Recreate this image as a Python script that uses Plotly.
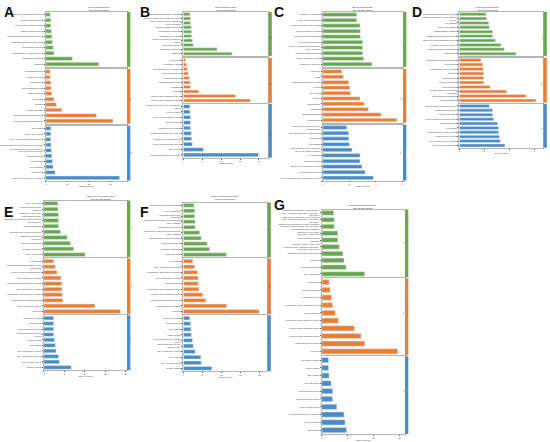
import plotly.graph_objects as go

W, H = 550, 442
GREEN = "#6aa84f"
ORANGE = "#ec7d34"
BLUE = "#4a8cc8"

# ---- data (top-to-bottom order inside each section) ----
A_bp_terms = ["aromatic compound catabolic process", "cellular catabolic process", "nucleic acid metabolic process",
              "amine metabolic process", "organic substance biosynthetic process", "ribosomal small subunit biogenesis",
              "mitochondrial transport", "macromolecule catabolic process", "cytoplasmic translation", "translation"]
A_bp_vals = [2.0, 2.3, 2.3, 2.6, 2.8, 3.1, 3.4, 3.8, 12.3, 24.6]
A_cc_terms = ["mitochondrial matrix", "extracellular space", "focal adhesion", "small ribosomal subunit",
              "apical membrane", "membrane", "ribosome", "extracellular region",
              "cytosolic small ribosomal subunit", "cytosolic large ribosomal subunit"]
A_cc_vals = [2.0, 2.0, 2.3, 2.5, 2.8, 3.8, 4.9, 7.4, 23.5, 31.2]
A_mf_terms = ["RNA binding", "poly(A) RNA binding", "NAD+ ADP-ribosyltransferase activity",
              "oxidoreductase activity, acting on CH-OH group", "structural molecule activity, acting on<br>the CH-OH group of donors",
              "antioxidant activity", "heme binding", "iron ion binding", "rRNA binding",
              "structural constituent of ribosome"]
A_mf_vals = [2.3, 2.3, 2.3, 2.4, 2.6, 2.8, 3.1, 3.4, 4.3, 34.3]

B_bp_terms = ["ribosomal small subunit assembly", "glycerol-3-phosphate metabolic process",
              "protein insertion into mitochondrial<br>inner membrane", "fatty acid metabolic process",
              "mitochondrial translation", "regulation of cell growth", "negative regulation of apoptotic<br>process",
              "amino acid transport", "cytoplasmic translation", "translation"]
B_bp_vals = [1.75, 1.9, 1.9, 2.1, 2.2, 2.2, 2.4, 2.6, 8.9, 12.9]
B_cc_terms = ["cell junction", "cytoplasmic vesicle", "mitochondrial inner membrane", "intracellular organelle",
              "plasma membrane", "small ribosomal subunit", "membrane", "ribosome",
              "cytosolic large ribosomal subunit", "cytosolic small ribosomal subunit"]
B_cc_vals = [0.6, 0.9, 1.05, 1.3, 1.6, 1.75, 1.9, 4.1, 13.8, 17.7]
B_mf_terms = ["nucleic acid binding, RNA polymerase<br>activity", "iron ion binding", "protein kinase inhibitor activity",
              "peroxide binding", "unfolded protein binding", "translation initiation factor activity",
              "cytochrome-c oxidase activity", "NADH dehydrogenase activity", "rRNA binding",
              "structural constituent of ribosome"]
B_mf_vals = [1.75, 1.75, 1.9, 1.9, 1.9, 2.1, 2.2, 2.4, 5.3, 19.9]

C_bp_terms = ["regulation of translation", "insulin receptor signaling", "positive regulation of cell growth",
              "cellular response to insulin", "cellular glucose homeostasis", "fatty acid beta-oxidation",
              "positive regulation of transcription,<br>DNA-templated", "glycogen catabolic process",
              "glucose metabolic process", "tricarboxylic acid cycle"]
C_bp_vals = [2.55, 2.55, 2.8, 2.83, 2.83, 3.0, 3.0, 3.0, 3.08, 3.7]
C_cc_terms = ["sarcomere", "Z disc", "mitochondrial respiratory chain", "T-tubule", "cell junction",
              "myofibril", "focal adhesion", "membrane", "mitochondrial matrix", "mitochondrion"]
C_cc_vals = [1.43, 1.55, 1.95, 2.03, 2.1, 2.8, 3.13, 3.43, 4.38, 5.58]
C_mf_terms = ["electron transfer activity, NADH<br>dehydrogenase", "flavin adenine dinucleotide binding",
              "ATP binding", "actin binding", "oxidoreductase activity, acting on<br>the CH-OH group of donors",
              "NAD binding", "coenzyme binding", "acyl-CoA dehydrogenase activity",
              "electron transfer activity", "NADH dehydrogenase (ubiquinone) activity"]
C_mf_vals = [1.8, 1.95, 1.95, 2.0, 2.2, 2.8, 2.8, 2.95, 3.18, 3.8]

D_bp_terms = ["amino acid transmembrane transport", "ubiquitin-dependent protein catabolic<br>process",
              "ion transport", "amino acid transport", "transmembrane transport", "phospholipid biosynthetic process",
              "calcium ion transmembrane transport", "response to unfolded protein",
              "cellular calcium ion homeostasis", "protein folding"]
D_bp_vals = [2.13, 2.19, 2.35, 2.4, 2.67, 2.67, 2.88, 3.33, 3.6, 4.53]
D_cc_terms = ["endoplasmic reticulum membrane", "cell periphery", "endoplasmic reticulum lumen",
              "lysosome", "Golgi apparatus", "vacuolar membrane", "Golgi membrane",
              "integral component of plasma<br>membrane", "Golgi apparatus membrane", "plasma membrane"]
D_cc_vals = [1.73, 1.87, 1.92, 1.95, 1.95, 1.95, 2.48, 3.79, 5.33, 6.13]
D_mf_terms = ["transmembrane transporter activity", "unfolded protein binding", "calcium ion binding",
              "protein disulfide isomerase activity", "chaperone binding", "ATP binding",
              "ligand-gated ion channel activity", "ATPase activity, coupled", "ATP-dependent protein binding",
              "heat shock protein binding"]
D_mf_vals = [2.4, 2.67, 2.67, 2.75, 3.07, 3.15, 3.15, 3.2, 3.28, 3.65]

E_bp_terms = ["tRNA processing", "ribosomal large subunit<br>assembly", "maturation of SSU-rRNA<br>from tricistronic rRNA",
              "maturation of 5.8S rRNA from tricistronic<br>rRNA transcript", "ribosome assembly",
              "ribosomal large subunit biogenesis", "ribosomal small subunit<br>biogenesis",
              "nucleolus organization", "ribosome biogenesis", "rRNA processing"]
E_bp_vals = [3.4, 3.5, 3.6, 3.6, 3.6, 4.1, 5.7, 6.5, 7.3, 10.1]
E_cc_terms = ["nucleoplasm", "Pwp2p-containing subcomplex of 90S<br>preribosome", "cytosolic small ribosomal subunit",
              "RNA polymerase complex", "preribosome, small subunit precursor", "RNA polymerase I complex",
              "preribosome, large subunit precursor", "cytosolic large ribosomal subunit",
              "small-subunit processome", "nucleolus"]
E_cc_vals = [2.4, 2.8, 3.2, 4.2, 4.4, 4.4, 4.5, 4.6, 12.5, 18.7]
E_mf_terms = ["U3 snoRNA binding", "rRNA binding", "methyltransferase activity",
              "ribosome biogenesis factor<br>activity", "helicase activity", "RNA binding",
              "RNA polymerase I activity", "RNA polymerase II activity", "RNA helicase activity",
              "snoRNA binding"]
E_mf_vals = [2.4, 2.4, 2.4, 2.4, 2.6, 2.8, 3.0, 3.6, 3.8, 6.7]

F_bp_terms = ["ribosomal large subunit assembly", "rRNA modification", "ribosomal small subunit<br>biogenesis",
              "maturation of SSU-rRNA from tricistronic<br>rRNA transcript", "maturation of 5.8S rRNA",
              "maturation of LSU-rRNA from tricistronic<br>rRNA transcript", "ribosomal large subunit biogenesis",
              "ribosome biogenesis", "nucleolus organization", "rRNA processing"]
F_bp_vals = [2.8, 3.0, 3.0, 3.1, 3.1, 4.3, 4.7, 6.3, 6.9, 11.3]
F_cc_terms = ["nucleoplasm", "RNA polymerase III complex", "preribosome, small subunit precursor",
              "RNA polymerase I complex", "90S preribosome", "preribosome, large subunit precursor",
              "cytosolic small ribosomal subunit", "cytosolic large ribosomal subunit",
              "small-subunit processome", "nucleolus"]
F_cc_vals = [2.5, 3.0, 3.7, 3.9, 3.9, 4.1, 5.1, 5.9, 11.4, 19.9]
F_mf_terms = ["U3 snoRNA binding", "box C/D binding", "rRNA binding", "snRNA binding",
              "ATP-dependent RNA helicase<br>activity", "methyltransferase activity,<br>acting on RNA",
              "RNA polymerase I activity", "RNA binding", "RNA helicase activity", "snoRNA binding"]
F_mf_vals = [1.7, 1.9, 2.0, 2.1, 2.4, 2.6, 3.1, 4.6, 4.7, 7.5]

G_bp_terms = ["maturation of 5.8S rRNA from tricistronic<br>rRNA transcript (SSU-rRNA, 5.8S rRNA,<br>LSU-rRNA)",
              "maturation of SSU-rRNA from tricistronic<br>rRNA transcript (SSU-rRNA, 5.8S rRNA,<br>LSU-rRNA)",
              "endonucleolytic cleavage in ITS1 to separate<br>SSU-rRNA from 5.8S rRNA and LSU-rRNA<br>from tricistronic rRNA transcript",
              "maturation of LSU-rRNA<br>(SSU-rRNA, 5.8S rRNA)", "ribosomal large subunit<br>assembly",
              "cleavage of rRNA, rRNA from<br>tricistronic rRNA transcript (SSU-rRNA,<br>5.8S rRNA, LSU-rRNA)",
              "ribosomal large subunit biogenesis", "translation", "ribosome biogenesis", "rRNA processing"]
G_bp_vals = [2.3, 2.4, 2.4, 3.1, 3.1, 3.4, 4.1, 4.3, 4.7, 8.3]
G_cc_terms = ["nucleoplasm", "nuclear membrane", "extracellular region", "preribosome, small subunit precursor",
              "90S preribosome", "preribosome, large subunit precursor", "cytosolic small ribosomal subunit",
              "cytosolic large ribosomal subunit", "small-subunit processome", "nucleolus"]
G_cc_vals = [1.4, 1.6, 1.9, 2.1, 2.6, 3.2, 6.3, 7.6, 8.3, 14.7]
G_mf_terms = ["U3 snoRNA binding", "snRNA binding", "rRNA binding", "box C/D binding",
              "GTP hydrolysis activity", "methyltransferase activity", "RNA helicase activity",
              "structural constituent of ribosome", "snoRNA binding", "RNA binding"]
G_mf_vals = [1.3, 1.3, 1.4, 1.8, 2.1, 2.1, 2.9, 4.3, 4.5, 4.8]

# ---- layout of panels (pixels in the 550x442 picture) ----
panels = [
    dict(letter="A", title="WT vs Control(Ctrl)", x=(45, 126), rows=[(11, 66), (68, 123), (125, 180)],
         xmax=37.5, ticks=[0, 10, 20, 30], lpos=(1, 1), tpos=3,
         data=[(A_bp_terms, A_bp_vals), (A_cc_terms, A_cc_vals), (A_mf_terms, A_mf_vals)]),
    dict(letter="B", title="MR vs Control(Ctrl)", x=(183, 268), rows=[(11, 55), (57, 102), (103, 157)],
         xmax=22.4, ticks=[0, 5, 10, 15, 20], lpos=(137, 1), tpos=3,
         data=[(B_bp_terms, B_bp_vals), (B_cc_terms, B_cc_vals), (B_mf_terms, B_mf_vals)]),
    dict(letter="C", title="SR vs Control(Ctrl)", x=(323, 403), rows=[(11, 66), (68, 122), (124, 180)],
         xmax=6.0, ticks=[0, 2, 4, 6], lpos=(272, 1), tpos=3,
         data=[(C_bp_terms, C_bp_vals), (C_cc_terms, C_cc_vals), (C_mf_terms, C_mf_vals)]),
    dict(letter="D", title="NMR vs Control(Ctrl)", x=(460, 544), rows=[(11, 55), (57, 102), (103, 147)],
         xmax=6.7, ticks=[0, 2, 4, 6], lpos=(410, 1), tpos=3,
         data=[(D_bp_terms, D_bp_vals), (D_cc_terms, D_cc_vals), (D_mf_terms, D_mf_vals)]),
    dict(letter="E", title="NMR WT vs Control(Ctrl)", x=(43, 126), rows=[(200, 257), (258, 314), (315, 370)],
         xmax=20.2, ticks=[0, 5, 10, 15, 20], lpos=(1, 201), tpos=192,
         data=[(E_bp_terms, E_bp_vals), (E_cc_terms, E_cc_vals), (E_mf_terms, E_mf_vals)]),
    dict(letter="F", title="NMR MR vs Control(Ctrl)", x=(183, 267), rows=[(202, 257), (258, 314), (315, 371)],
         xmax=22.0, ticks=[0, 5, 10, 15, 20], lpos=(137, 201), tpos=192,
         data=[(F_bp_terms, F_bp_vals), (F_cc_terms, F_cc_vals), (F_mf_terms, F_mf_vals)]),
    dict(letter="G", title="NMR SR vs Control(Ctrl)", x=(322, 405), rows=[(209, 277), (278, 355), (356, 434)],
         xmax=16.0, ticks=[0, 5, 10, 15], lpos=(272, 194), tpos=201,
         data=[(G_bp_terms, G_bp_vals), (G_cc_terms, G_cc_vals), (G_mf_terms, G_mf_vals)]),
]
colors = [GREEN, ORANGE, BLUE]
cats = ["BP", "CC", "MF"]


def px(v):
    return v / W


def py(v):
    return 1 - v / H


fig = go.Figure()
layout = {}
shapes = []
annotations = []
n = 0
for p in panels:
    for s, (terms, vals) in enumerate(p["data"]):
        n += 1
        xa = "x" if n == 1 else "x%d" % n
        ya = "y" if n == 1 else "y%d" % n
        fig.add_trace(go.Bar(x=vals, y=terms, orientation="h", marker_color=colors[s],
                             width=0.68, xaxis=xa, yaxis=ya, showlegend=False))
        y0, y1 = p["rows"][s]
        bottom = s == 2
        layout["xaxis" if n == 1 else "xaxis%d" % n] = dict(
            domain=[px(p["x"][0]), px(p["x"][1])], anchor=ya, range=[0, p["xmax"]],
            tickvals=p["ticks"], showticklabels=bottom, ticks="outside" if bottom else "",
            ticklen=1, tickwidth=0.5, tickcolor="#555", tickfont=dict(size=2.3, color="#333"),
            showgrid=False, zeroline=False, showline=True, mirror=True, linecolor="#b5b5b5", linewidth=0.8,
            title=dict(text="-log10 (Pvalue)", font=dict(size=2.3, color="#333"), standoff=1) if bottom else None,
            fixedrange=True)
        layout["yaxis" if n == 1 else "yaxis%d" % n] = dict(
            domain=[py(y1), py(y0)], anchor=xa, autorange="reversed", type="category",
            tickfont=dict(size=2.1, color="#333"), ticks="outside", ticklen=1, tickwidth=0.5,
            tickcolor="#555", showgrid=False, showline=True, mirror=True, linecolor="#b5b5b5",
            linewidth=0.8, fixedrange=True)
        # category strip on the right
        shapes.append(dict(type="rect", xref="paper", yref="paper",
                           x0=px(p["x"][1] + 0.5), x1=px(p["x"][1] + 3.8),
                           y0=py(y1), y1=py(y0), fillcolor=colors[s], line_width=0, layer="above"))
        annotations.append(dict(text=cats[s], xref="paper", yref="paper", x=px(p["x"][1] + 2.15),
                                y=py((y0 + y1) / 2), showarrow=False, textangle=90,
                                font=dict(size=2.0, color="#222")))
    # panel title
    annotations.append(dict(text=p["title"] + "<br>Top 30 GO Terms", xref="paper", yref="paper",
                            x=px((p["x"][0] + p["x"][1]) / 2), y=py(p["tpos"]), yanchor="top",
                            showarrow=False, font=dict(size=2.5, color="#222")))
    # panel letter
    annotations.append(dict(text="<b>%s</b>" % p["letter"], xref="paper", yref="paper",
                            x=px(p["lpos"][0]), y=py(p["lpos"][1]), xanchor="left", yanchor="top",
                            showarrow=False, font=dict(size=14, color="#111", family="Arial")))

fig.update_layout(**layout)
fig.update_layout(width=W, height=H, margin=dict(l=0, r=0, t=0, b=0), bargap=0.35,
                  paper_bgcolor="white", plot_bgcolor="white", shapes=shapes, annotations=annotations,
                  font=dict(family="Arial"))
# drop the default page margin so the figure sits at the window's corner
fig.write_html("out.html", config={"displayModeBar": False},
               post_script="document.body.style.margin='0';document.body.style.overflow='hidden';")
